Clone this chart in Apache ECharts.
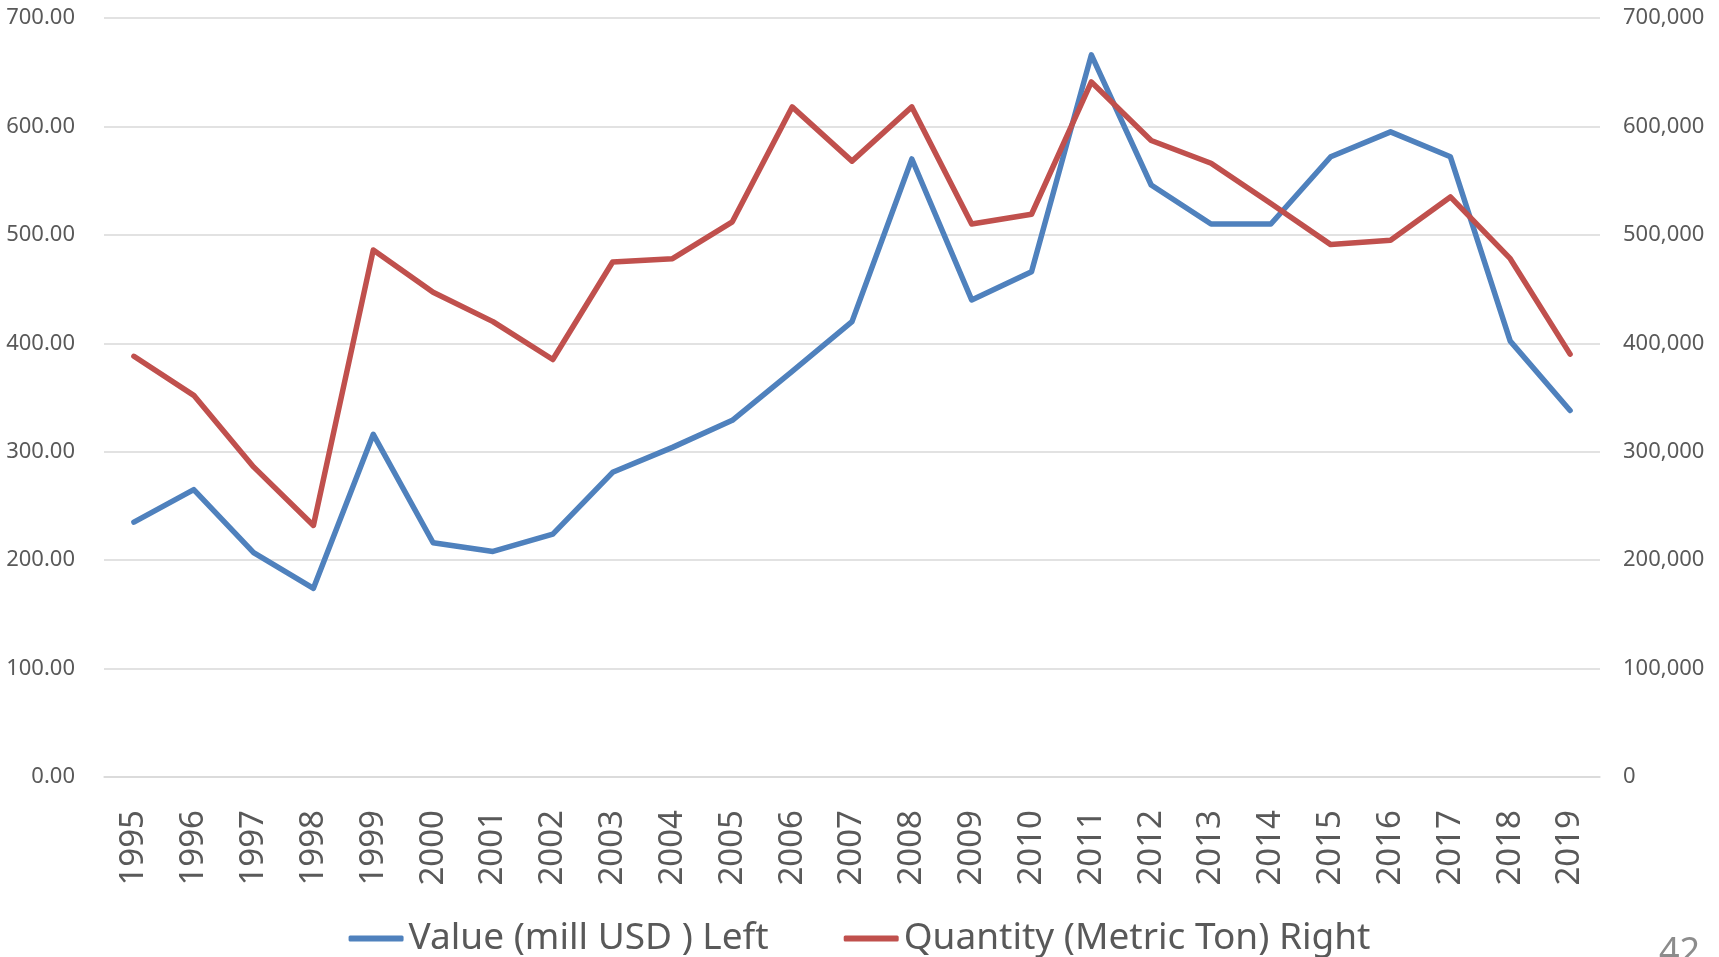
<!DOCTYPE html>
<html>
<head>
<meta charset="utf-8">
<script src="https://cdn.jsdelivr.net/npm/echarts@6/dist/echarts.min.js"></script>
<style>
  html, body { margin: 0; padding: 0; background: #fff; }
  #chart { width: 1719px; height: 957px; }
</style>
</head>
<body>
<div id="chart"></div>
<script>
// years on the x axis
const years = ['1995', '1996', '1997', '1998', '1999', '2000', '2001', '2002', '2003', '2004',
  '2005', '2006', '2007', '2008', '2009', '2010', '2011', '2012', '2013', '2014',
  '2015', '2016', '2017', '2018', '2019']

// value, mill USD (left axis)
const valueMillUsd = [235, 265, 207, 174, 316, 216, 208, 224, 281, 304,
  329, 374, 420, 570, 440, 466, 666, 546, 510, 510,
  572, 595, 572, 402, 338]

// quantity, metric ton (right axis)
const quantityTon = [388000, 352000, 286000, 232000, 486000, 447000, 420000, 385000, 475000, 478000,
  512000, 618000, 568000, 618000, 510000, 519000, 641000, 587000, 566000, 529000,
  491000, 495000, 535000, 478000, 390000]

const leftTicks = { min: 0, max: 700, interval: 100 }
const rightTicks = { min: 0, max: 700000, interval: 100000 }

const FONT = '"Noto Sans", sans-serif'
const gridLine = { show: true, lineStyle: { color: '#d9d9d9', width: 1.5 } }

const chart = echarts.init(document.getElementById('chart'))

chart.setOption({
  animation: false,
  textStyle: { fontFamily: FONT },
  color: ['#4f81bd', '#c0504d'],
  grid: {
    left: 104,
    right: 119,
    top: 18,
    bottom: 180,
    containLabel: false
  },
  legend: {
    left: 'center',
    top: 915,
    itemWidth: 55,
    itemHeight: 6,
    itemGap: 75,
    icon: 'roundRect',
    textStyle: { fontSize: 37, color: '#595959', fontFamily: FONT }
  },
  xAxis: {
    type: 'category',
    data: years,
    boundaryGap: true,
    axisLine: { show: true, lineStyle: { color: '#d9d9d9', width: 1.5 } },
    axisTick: { show: false },
    axisLabel: {
      rotate: 90,
      margin: 33,
      fontSize: 33,
      color: '#595959',
      fontFamily: FONT
    }
  },
  yAxis: [
    {
      type: 'value',
      min: leftTicks.min,
      max: leftTicks.max,
      interval: leftTicks.interval,
      axisLine: { show: false },
      axisTick: { show: false },
      splitLine: gridLine,
      axisLabel: {
        margin: 29,
        fontSize: 22,
        color: '#595959',
        fontFamily: FONT,
        formatter: v => v.toFixed(2)
      }
    },
    {
      type: 'value',
      position: 'right',
      min: rightTicks.min,
      max: rightTicks.max,
      interval: rightTicks.interval,
      axisLine: { show: false },
      axisTick: { show: false },
      splitLine: { show: false },
      axisLabel: {
        margin: 23,
        fontSize: 22,
        color: '#595959',
        fontFamily: FONT,
        formatter: v => v.toLocaleString('en-US')
      }
    }
  ],
  series: [
    {
      name: 'Value (mill USD ) Left',
      type: 'line',
      yAxisIndex: 0,
      data: valueMillUsd,
      symbol: 'none',
      lineStyle: { width: 5.5, cap: 'round', join: 'round' }
    },
    {
      name: 'Quantity (Metric Ton) Right',
      type: 'line',
      yAxisIndex: 1,
      data: quantityTon,
      symbol: 'none',
      lineStyle: { width: 5.5, cap: 'round', join: 'round' }
    }
  ],
  graphic: [
    {
      type: 'text',
      left: 1659,
      top: 935,
      style: {
        text: '42',
        fontSize: 36,
        fontFamily: FONT,
        fill: '#8c8c8c'
      }
    }
  ]
})
</script>
</body>
</html>
